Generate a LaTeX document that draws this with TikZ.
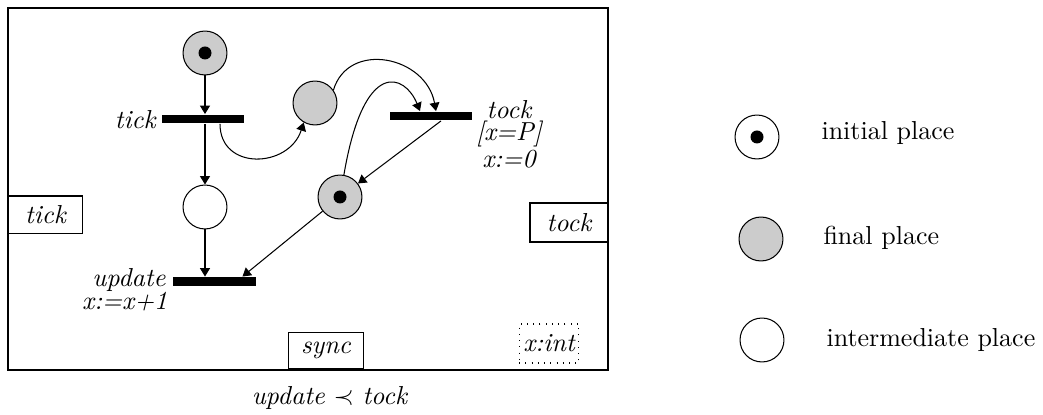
\documentclass[tikz,border=0pt]{standalone}
\usetikzlibrary{arrows.meta,calc}
\definecolor{placegray}{gray}{0.8}
\begin{document}
\begin{tikzpicture}[x=0.3846pt,y=-0.3846pt,
  place/.style={circle,draw,line width=0.4pt,minimum size=16.9pt,inner sep=0pt},
  fin/.style={place,fill=placegray},
  token/.style={circle,fill=black,minimum size=5pt,inner sep=0pt},
  trans/.style={rectangle,fill=black,minimum width=31.9pt,minimum height=3.4pt,inner sep=0pt},
  arr/.style={-{Triangle[length=3.2pt,width=3.8pt]}},
  port/.style={draw,inner sep=0pt,font=\itshape},
  lab/.style={font=\itshape,inner sep=0pt},
  legtext/.style={anchor=west,inner sep=0pt}]
\useasboundingbox (0,0) rectangle (1043,415);
% frame
\draw (8,8) rectangle (608,370);
% places and transitions
\node[fin] (p0) at (205,53) {};
\node[token] (k0) at (p0) {};
\node[trans] (tick) at (203,119) {};
\node[place] (p1) at (205,207) {};
\node[fin] (p2) at (315,103) {};
\node[trans] (tock) at (431,116) {};
\node[fin] (p3) at (340,197) {};
\node[token] (k3) at (p3) {};
\node[trans] (upd) at (214.5,281.5) {};
% arcs
\draw[arr] (p0) -- (p0 |- tick.north);
\draw[arr] (p0 |- tick.south) -- (p1);
\draw[arr] (p1) -- (p1 |- upd.north);
\draw[arr] ($(tick.south)+(17,0)$) .. controls +(0,47) and +(-15,46) .. (p2.-120);
\draw[arr] (p2.35) .. controls +(15,-50) and +(-10,-55) .. ($(tock.north)+(5,0)$);
\draw[arr] (p3.80) .. controls +(20,-118) and +(-15,-37) .. ($(tock.north)+(-11,0)$);
\draw[arr] ($(tock.south)+(10,0)$) -- (p3);
\draw[arr] (p3) -- ($(upd.north)+(28,0)$);
% labels
\node[lab,anchor=east] (ltick) at (156,120) {tick};
\node[lab,align=center,font=\itshape\fontsize{10}{8.8}\selectfont] (ltock) at (509,134) {tock\\{}[x=P]\\x:=0};
\node[lab,anchor=east] (lupd) at (166,280) {update};
\node[lab,anchor=east] (lupd2) at (168,302) {x:=x+1};
% ports
\node[port,minimum width=28.8pt,minimum height=14.6pt] (ptick) at (45.5,215) {tick};
\node[port,minimum width=30pt,minimum height=15pt] (ptock) at (569,222.5) {tock};
\node[port,minimum width=29.2pt,minimum height=14.2pt] (psync) at (326,350.5) {sync};
\node[port,dotted,minimum width=23pt,minimum height=15pt] (pvar) at (549,343.5) {x:int};
% constraint
\node[inner sep=0pt] (cons) at (330,398) {\textit{update} $\prec$ \textit{tock}};
% legend
\node[place] (li) at (757,137) {};
\node[token] (lk) at (li) {};
\node[legtext] (lti) at (821,133) {initial place};
\node[fin] (lf) at (761,239) {};
\node[legtext] (ltf) at (823,238) {final place};
\node[place] (lm) at (762,340) {};
\node[legtext] (ltm) at (826,340) {intermediate place};
\end{tikzpicture}
\end{document}
